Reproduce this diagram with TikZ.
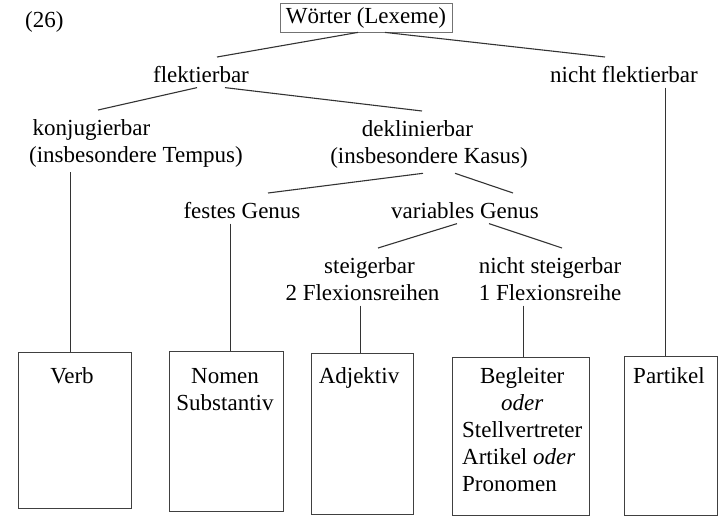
\documentclass[tikz,border=0pt]{standalone}
\usepackage{fontspec}
\setmainfont{Liberation Serif}
\def \lstrut{\rule{0pt}{20pt}}

\begin{document}
\begin{tikzpicture}[x=1pt,y=-1pt,
    every node/.style={font=\fontsize{23}{27}\selectfont},
    lbl/.style={anchor=north, inner xsep=0pt, inner ysep=5pt, align=center},
    wbox/.style 2 args={draw=black!75, line width=1.3pt, anchor=north west,
        minimum width=#1, minimum height=#2, inner sep=0pt},
    conn/.style={draw=black!80, line width=1.1pt}]
\useasboundingbox (0,0) rectangle (721,517);
\node[anchor=base west, inner sep=0pt] (num) at (25,27) {(26)};
\node[draw=black!55, line width=0.8pt, minimum width=172pt, minimum height=29pt,
    inner sep=0pt] (woerter) at (366,17.5) {Wörter (Lexeme)};
% the tree
\node[lbl] (flekt) at (201,57) {\lstrut flektierbar};
\node[lbl] (nflekt) at (624,57) {\lstrut nicht flektierbar};
\node[lbl] (konj) at (136,110) {\lstrut konjugierbar\hspace*{89pt}\mbox{}\\(insbesondere Tempus)};
\node[lbl] (dekl) at (429,111) {\lstrut deklinierbar\hspace*{23pt}\mbox{}\\(insbesondere Kasus)};
\node[lbl] (festes) at (242,193) {\lstrut festes Genus};
\node[lbl] (var) at (465,193) {\lstrut variables Genus};
\node[lbl] (steig) at (362.5,248) {\lstrut\hspace*{14pt}steigerbar\\2 Flexionsreihen};
\node[lbl] (nsteig) at (550,248) {\lstrut nicht steigerbar\\1 Flexionsreihe};
% the word classes
\node[wbox={113pt}{156pt}] (verb) at (18,352) {};
\node[wbox={114pt}{160pt}] (nomen) at (169,351) {};
\node[wbox={102pt}{161pt}] (adj) at (311,353) {};
\node[wbox={137pt}{158pt}] (begl) at (452,357) {};
\node[wbox={93pt}{159pt}] (part) at (624,356) {};
\node[lbl] (verbt) at (72,358) {\lstrut Verb};
\node[lbl] (nomt) at (225,358) {\lstrut Nomen\\Substantiv};
\node[lbl] (adjt) at (359,358) {\lstrut Adjektiv};
\node[lbl, anchor=north west] (beglt) at (462,359)
    {\begin{tabular}{@{}l@{}}
     \multicolumn{1}{@{}c@{}}{Begleiter}\\
     \multicolumn{1}{@{}c@{}}{\textit{oder}}\\
     Stellvertreter\\Artikel \textit{oder}\\Pronomen
     \end{tabular}};
\node[lbl] (partt) at (669,358) {\lstrut Partikel};
% branches
\draw[conn] ([xshift=-8pt]woerter.south) -- ([xshift=16pt]flekt.north);
\draw[conn] ([xshift=19pt]woerter.south) -- ([xshift=-19pt]nflekt.north);
\draw[conn] ([xshift=-4pt]flekt.south) -- ([xshift=-38pt]konj.north);
\draw[conn] ([xshift=24pt]flekt.south) -- ([xshift=-7pt]dekl.north);
\draw[conn] ([xshift=-6pt]dekl.south) -- ([xshift=26pt]festes.north);
\draw[conn] ([xshift=26pt]dekl.south) -- ([xshift=48pt]var.north);
\draw[conn] ([xshift=-8pt]var.south) -- ([xshift=15.5pt]steig.north);
\draw[conn] ([xshift=24pt]var.south) -- ([xshift=12pt]nsteig.north);
\draw[conn] ([xshift=-4.5pt]konj.south -| verb.north) -- ([xshift=-4.5pt]verb.north);
\draw[conn] ([xshift=4pt]festes.south -| nomen.north) -- ([xshift=4pt]nomen.north);
\draw[conn] ([xshift=-2pt]steig.south -| adj.north) -- ([xshift=-2pt]adj.north);
\draw[conn] ([xshift=2.5pt]nsteig.south -| begl.north) -- ([xshift=2.5pt]begl.north);
\draw[conn] ([xshift=-5.5pt]nflekt.south -| part.north) -- ([xshift=-5.5pt]part.north);
\end{tikzpicture}
\end{document}
